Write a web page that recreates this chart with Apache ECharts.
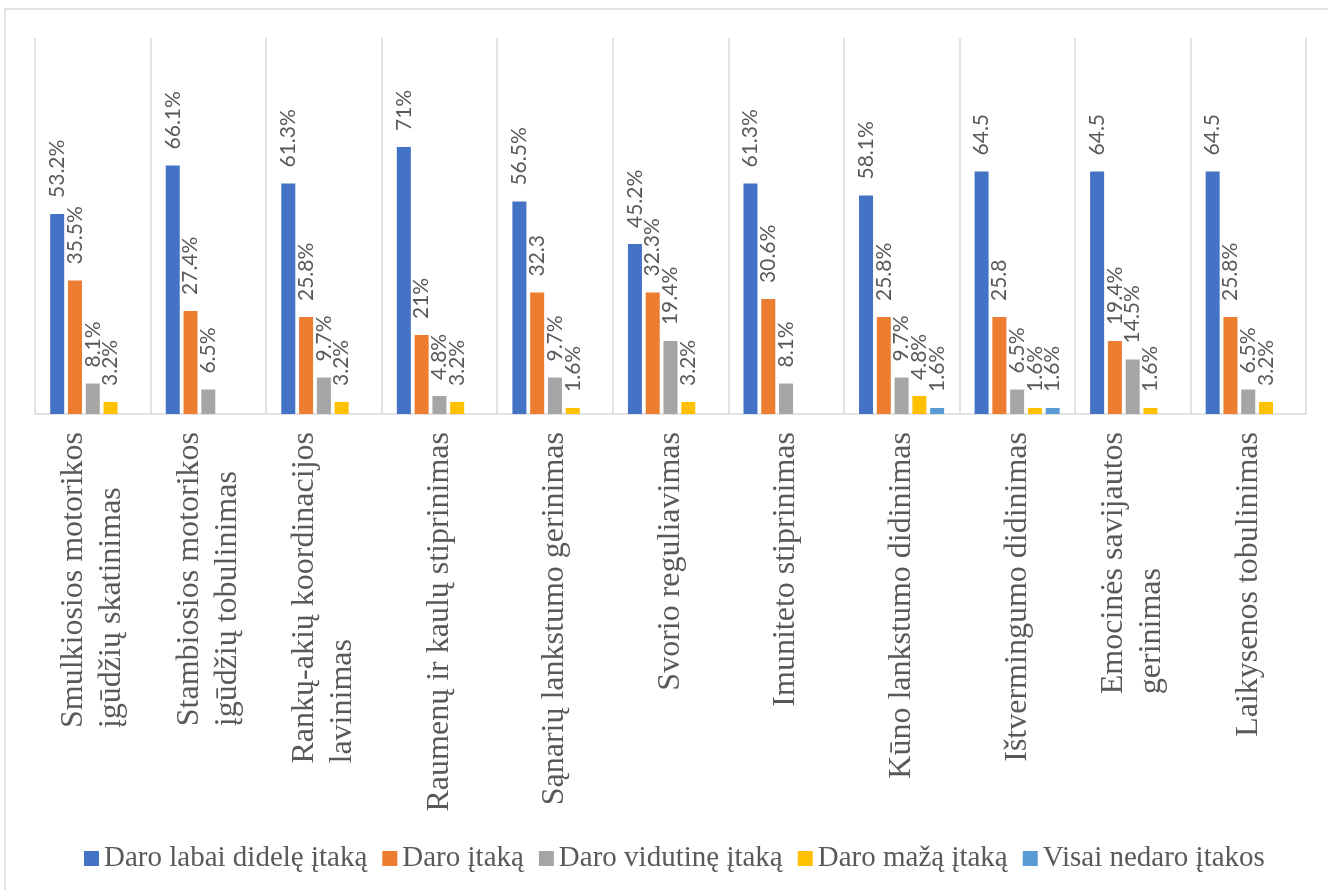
<!DOCTYPE html>
<html>
<head>
<meta charset="utf-8">
<script src="https://cdn.jsdelivr.net/npm/echarts@6/dist/echarts.min.js"></script>
<style>
  html, body { margin: 0; padding: 0; background: #ffffff; }
  #chart { width: 1328px; height: 890px; }
</style>
</head>
<body>
<div id="chart"></div>
<script>
// Categories (line breaks where the axis label wraps)
const categories = [
  'Smulkiosios motorikos\nįgūdžių skatinimas',
  'Stambiosios motorikos\nįgūdžių tobulinimas',
  'Rankų-akių koordinacijos\nlavinimas',
  'Raumenų ir kaulų stiprinimas',
  'Sąnarių lankstumo gerinimas',
  'Svorio reguliavimas',
  'Imuniteto stiprinimas',
  'Kūno lankstumo didinimas',
  'Ištvermingumo didinimas',
  'Emocinės savijautos\ngerinimas',
  'Laikysenos tobulinimas'
];

const seriesNames = [
  'Daro labai didelę įtaką',
  'Daro įtaką',
  'Daro vidutinę įtaką',
  'Daro mažą įtaką',
  'Visai nedaro įtakos'
];

// Shares of answers, %
const veryLarge = [53.2, 66.1, 61.3, 71, 56.5, 45.2, 61.3, 58.1, 64.5, 64.5, 64.5];
const some      = [35.5, 27.4, 25.8, 21, 32.3, 32.3, 30.6, 25.8, 25.8, 19.4, 25.8];
const medium    = [8.1, 6.5, 9.7, 4.8, 9.7, 19.4, 8.1, 9.7, 6.5, 14.5, 6.5];
const small     = [3.2, null, 3.2, 3.2, 1.6, 3.2, null, 4.8, 1.6, 1.6, 3.2];
const noneAtAll = [null, null, null, null, null, null, null, 1.6, 1.6, null, null];

// Value labels printed without a percent sign: [series index, category index]
const bareLabels = [[1, 4], [0, 8], [1, 8], [0, 9], [0, 10]];

const colors = ['#4472C4', '#ED7D31', '#A5A5A5', '#FFC000', '#5B9BD5'];
const values = [veryLarge, some, medium, small, noneAtAll];

const textGray = '#595959';
const lineGray = '#D9D9D9';

function isBare(s, c) {
  return bareLabels.some(p => p[0] === s && p[1] === c);
}

const chart = echarts.init(document.getElementById('chart'), null, { renderer: 'canvas' });

const series = values.map((data, s) => ({
  name: seriesNames[s],
  type: 'bar',
  data: data,
  barWidth: 14,
  barGap: '27%',
  itemStyle: { color: colors[s] },
  label: {
    show: true,
    position: 'top',
    distance: 16,
    rotate: 90,
    align: 'left',
    verticalAlign: 'middle',
    fontFamily: 'Lato',
    fontSize: 21,
    color: textGray,
    formatter: p => p.value == null ? '' : (String(p.value) + (isBare(s, p.dataIndex) ? '' : '%'))
  }
}));

chart.setOption({
  animation: false,
  backgroundColor: '#ffffff',
  graphic: [{
    type: 'rect',
    shape: { x: 5, y: 9, width: 1400, height: 1000 },
    style: { fill: 'none', stroke: lineGray, lineWidth: 1.5 },
    silent: true,
    z: -10
  }],
  grid: {
    left: 35,
    right: 22,
    top: 38,
    bottom: 476,
    containLabel: false,
    outerBoundsMode: 'none'
  },
  legend: {
    data: seriesNames,
    bottom: 12,
    left: 79,
    icon: 'rect',
    itemWidth: 15,
    itemHeight: 15,
    itemGap: 15,
    textStyle: {
      fontFamily: 'Liberation Serif',
      fontSize: 29,
      color: textGray
    }
  },
  xAxis: {
    type: 'category',
    data: categories,
    boundaryGap: true,
    axisLine: { show: true, lineStyle: { color: lineGray, width: 1.5 } },
    axisTick: { show: false },
    splitLine: { show: true, lineStyle: { color: lineGray, width: 1.5 } },
    axisLabel: {
      interval: 0,
      rotate: 90,
      margin: 18,
      fontFamily: 'Liberation Serif',
      fontSize: 32,
      lineHeight: 38,
      color: textGray,
      formatter: v => v.split('\n').map(l => '{c|' + l + '}').join('\n'),
      rich: {
        c: {
          align: 'left',
          fontFamily: 'Liberation Serif',
          fontSize: 32,
          lineHeight: 38,
          color: textGray
        }
      }
    }
  },
  yAxis: {
    type: 'value',
    min: 0,
    max: 100,
    show: false,
    splitLine: { show: false }
  },
  series: series
});
</script>
</body>
</html>
